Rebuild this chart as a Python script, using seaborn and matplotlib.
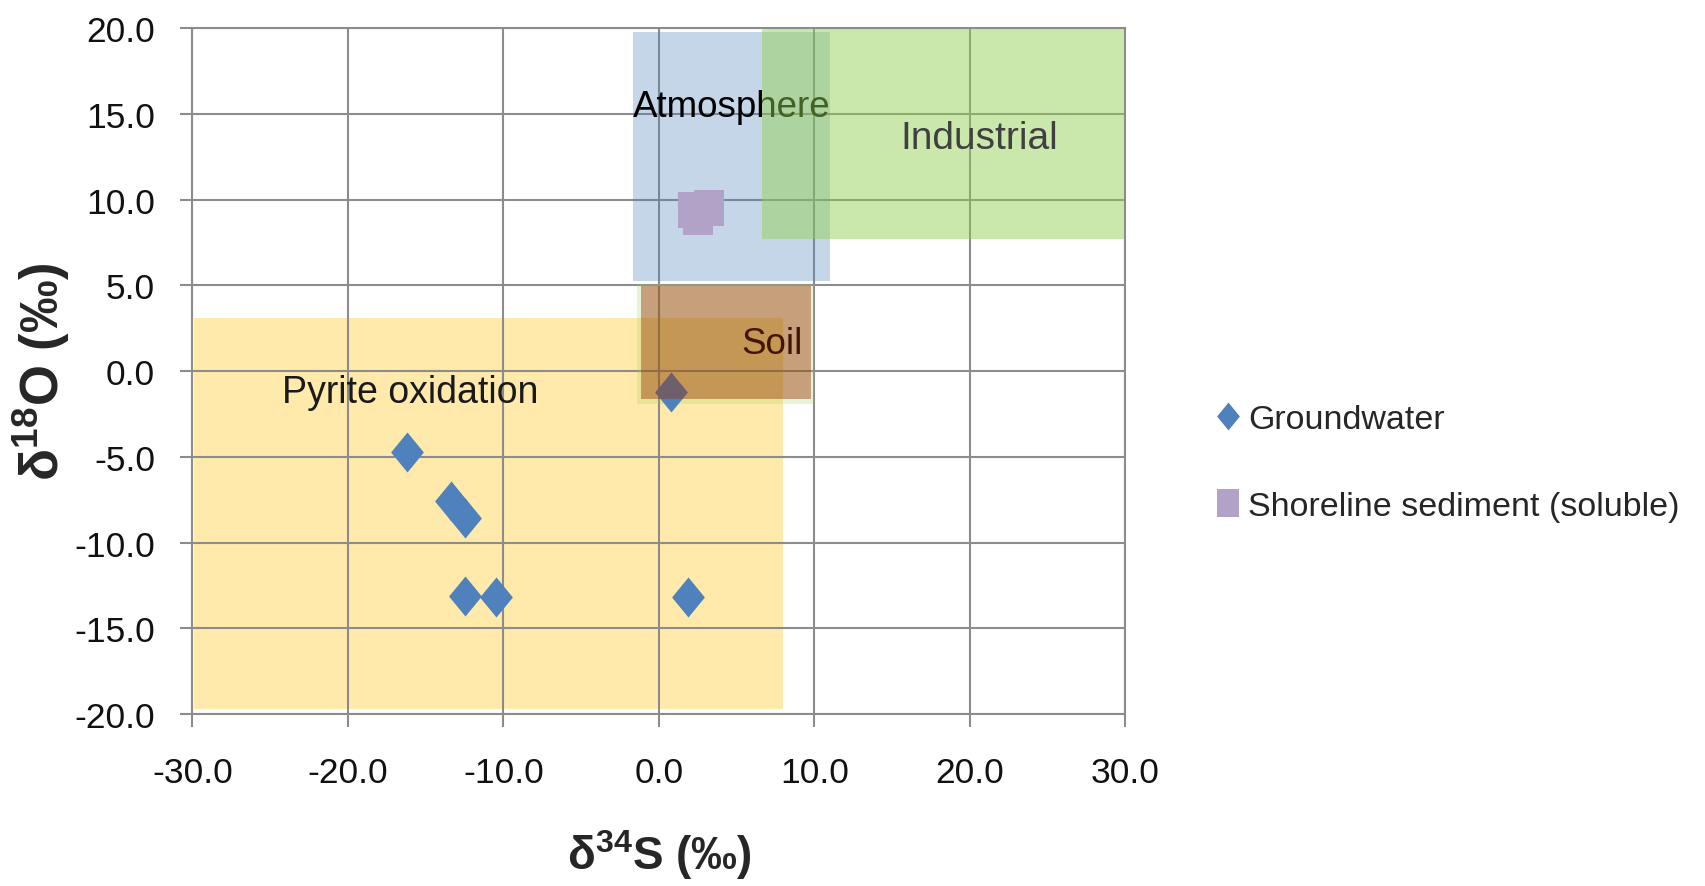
import numpy as np
import pandas as pd
import seaborn as sns
import matplotlib.pyplot as plt
from matplotlib.patches import Rectangle
from matplotlib.lines import Line2D

# sample values
gw_x = [0.8, -16.2, -13.4, -12.5, -12.5, -10.5, 1.9]
gw_y = [-1.2, -4.7, -7.6, -8.6, -13.1, -13.2, -13.2]
sed_x = [2.2, 3.2, 2.5]
sed_y = [9.4, 9.5, 9.0]

# source fields: (x0, x1, y0, y1)
pyrite_box = [-29.9, 8.0, -19.7, 3.1]
atmos_box = [-1.7, 11.0, 5.25, 19.75]
indust_box = [6.6, 30.0, 7.7, 20.0]
soil_box = [-1.15, 9.8, -1.65, 4.95]
soil_rim = [-1.4, 9.95, -1.9, 5.05]

x_ticks = [-30, -20, -10, 0, 10, 20, 30]
y_ticks = [-20, -15, -10, -5, 0, 5, 10, 15, 20]

sns.set_style("white")
FONT = ['Liberation Sans', 'DejaVu Sans']
plt.rcParams['font.family'] = FONT
plt.rcParams['axes.unicode_minus'] = False
plt.rcParams['mathtext.fontset'] = 'custom'
plt.rcParams['mathtext.rm'] = 'Liberation Sans'
plt.rcParams['mathtext.bf'] = 'Liberation Sans:bold'

gw = pd.DataFrame({"d34S": gw_x, "d18O": gw_y})
sed = pd.DataFrame({"d34S": sed_x, "d18O": sed_y})

fig = plt.figure(figsize=(17.06, 8.87), dpi=100)
ax = fig.add_axes([0.1128, 0.1939, 0.5469, 0.7734])

GRID = '#8c8c8c'


def box(b, color, alpha, z, **kw):
    ax.add_patch(Rectangle((b[0], b[2]), b[1] - b[0], b[3] - b[2],
                           facecolor=color, alpha=alpha, lw=0, zorder=z, **kw))


box(pyrite_box, '#FFC000', 0.33, 0.2)
box(atmos_box, '#4F81BD', 0.32, 1.0)
ax.text(atmos_box[0], 15.4, 'Atmosphere', fontsize=26.5, ha='left', va='center',
        color='black', zorder=1.1)
box(indust_box, '#92D050', 0.47, 1.2)
ax.text(20.6, 13.6, 'Industrial', fontsize=28, ha='center', va='center',
        color='#404040', zorder=1.3)
box(soil_rim, '#92D050', 0.22, 1.5)
ax.text(-16.0, -1.2, 'Pyrite oxidation', fontsize=27, ha='center', va='center',
        color='#1a1a1a', zorder=1.4)

diamond = [(0, 1), (0.82, 0), (0, -1), (-0.82, 0)]
rect = [(-0.41, -0.5), (0.41, -0.5), (0.41, 0.5), (-0.41, 0.5)]

sns.scatterplot(data=gw, x="d34S", y="d18O", marker=diamond, s=830, color='#4F81BD',
                linewidth=0, zorder=2, ax=ax, legend=False)
sns.scatterplot(data=sed, x="d34S", y="d18O", marker=rect, s=700, color='#B3A2C7',
                linewidth=0, zorder=2, ax=ax, legend=False)

ax.text(7.3, 1.6, 'Soil', fontsize=26.5, ha='center', va='center', color='black', zorder=2.9)
box(soil_box, '#993300', 0.43, 3.0)

ax.set_xlim(-30, 30)
ax.set_ylim(-20, 20)
ax.set_xticks(x_ticks)
ax.set_yticks(y_ticks)
ax.set_xticklabels([f"{v:.1f}" for v in x_ticks])
ax.set_yticklabels([f"{v:.1f}" for v in y_ticks])
ax.set_axisbelow(True)
ax.grid(True, color=GRID, lw=1.5)
for s in ax.spines.values():
    s.set_color(GRID)
    s.set_linewidth(1.5)
ax.tick_params(axis='both', length=9, width=1.5, color=GRID, labelsize=25.5,
               labelcolor='#111111', direction='out', bottom=True, left=True)
ax.tick_params(axis='x', pad=21)
ax.tick_params(axis='y', pad=18)

ax.set_xlabel(r'δ$^{\mathbf{34}}$S (‰)', fontsize=33, fontweight='bold')
ax.set_ylabel(r'δ$^{\mathbf{18}}$O (‰)', fontsize=38, fontweight='bold')
ax.xaxis.set_label_coords(0.5, -0.204)
ax.xaxis.label.set_va('center')
ax.yaxis.set_label_coords(-0.162, 0.5)
ax.yaxis.label.set_va('center')

handles = [
    Line2D([], [], ls='', marker=diamond, ms=20, color='#4F81BD', mew=0),
    Line2D([], [], ls='', marker=rect, ms=20, color='#B3A2C7', mew=0),
]
fig.legend(handles, ['Groundwater', 'Shoreline sediment (soluble)'],
           loc='center left', bbox_to_anchor=(1199 / 1706, 1 - 464 / 887),
           frameon=False, fontsize=24.5, handlelength=0.7, handletextpad=0.25,
           labelspacing=1.65, borderpad=0)

fig.savefig('out.png', dpi=100)
